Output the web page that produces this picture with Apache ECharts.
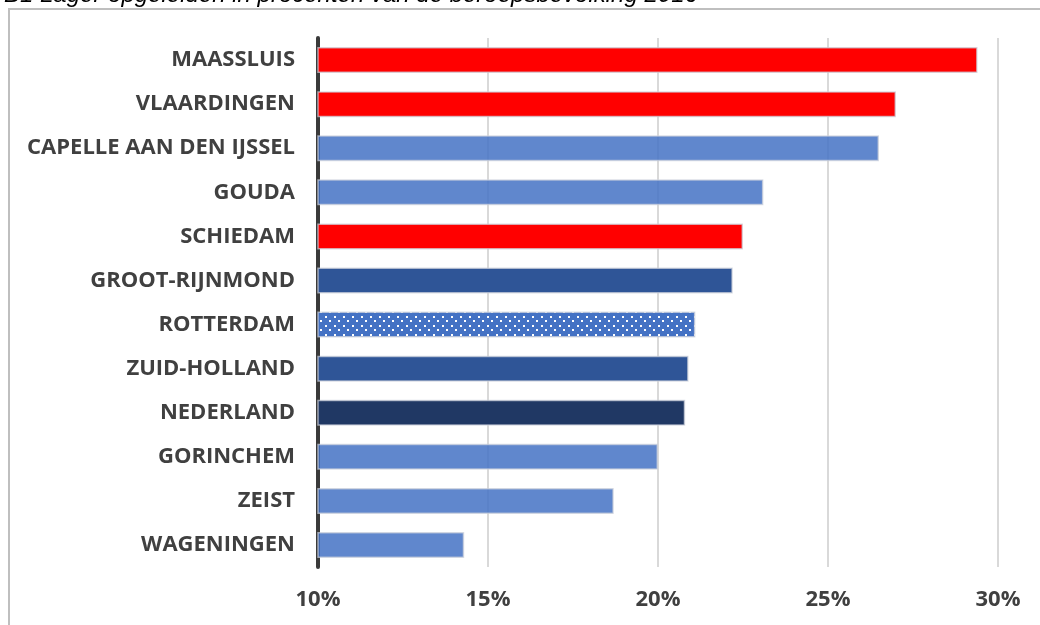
<!DOCTYPE html>
<html>
<head>
<meta charset="utf-8">
<script src="https://cdn.jsdelivr.net/npm/echarts@6/dist/echarts.min.js"></script>
<style>
    html, body { margin: 0; padding: 0; background: #fff; }
    #chart { width: 1040px; height: 625px; }
</style>
</head>
<body>
<div id="chart"></div>
<script>
// gemeenten, van boven naar onder (categorie-as is omgekeerd)
let regions = ['MAASSLUIS', 'VLAARDINGEN', 'CAPELLE AAN DEN IJSSEL', 'GOUDA', 'SCHIEDAM', 'GROOT-RIJNMOND',
    'ROTTERDAM', 'ZUID-HOLLAND', 'NEDERLAND', 'GORINCHEM', 'ZEIST', 'WAGENINGEN'];
let shares = [29.4, 27.0, 26.5, 23.1, 22.5, 22.2, 21.1, 20.9, 20.8, 20.0, 18.7, 14.3];
let kinds = ['rood', 'rood', 'gem', 'gem', 'rood', 'regio', 'rdam', 'regio', 'nl', 'gem', 'gem', 'gem'];
let ticks = [10, 15, 20, 25, 30];

// stippenpatroon voor Rotterdam
let dots = document.createElement('canvas');
dots.width = 9;
dots.height = 9;
let ctx = dots.getContext('2d');
ctx.fillStyle = '#4472C4';
ctx.fillRect(0, 0, 9, 9);
ctx.fillStyle = '#ffffff';
ctx.fillRect(1, 1, 2, 2);
ctx.fillRect(5, 5, 2, 2);

let colors = {
    rood: '#FF0000',
    gem: 'rgba(68,114,196,0.85)',
    regio: '#2F5597',
    nl: '#203864',
    rdam: {image: dots, repeat: 'repeat'}
};

let labelFont = {
    color: '#404040',
    fontFamily: 'Open Sans',
    fontWeight: 'bold',
    fontSize: 22
};

let option = {
    animation: false,
    graphic: [
        {
            type: 'rect',
            shape: {x: 9, y: 9, width: 1100, height: 700},
            style: {fill: 'none', stroke: '#bfbfbf', lineWidth: 2}
        },
        {
            type: 'text',
            left: 4,
            top: -17,
            style: {
                text: 'B1 Lager opgeleiden in procenten van de beroepsbevolking 2016',
                font: 'italic 24px "Liberation Sans"',
                fill: '#000'
            }
        }
    ],
    grid: {
        left: 318,
        right: 42,
        top: 38,
        bottom: 58
    },
    xAxis: {
        type: 'value',
        min: 10,
        max: 30,
        interval: 5,
        axisLine: {show: false},
        axisTick: {show: false},
        splitLine: {
            lineStyle: {color: '#d9d9d9', width: 2}
        },
        axisLabel: Object.assign({
            formatter: (v) => ticks.indexOf(v) > -1 ? v + '%' : '',
            margin: 22
        }, labelFont)
    },
    yAxis: {
        type: 'category',
        inverse: true,
        data: regions,
        axisTick: {show: false},
        axisLine: {
            lineStyle: {color: '#3a3a3a', width: 4}
        },
        axisLabel: Object.assign({
            margin: 23
        }, labelFont)
    },
    series: [
        {
            type: 'bar',
            barWidth: 26,
            data: shares.map((v, i) => ({
                value: v,
                itemStyle: {
                    color: colors[kinds[i]],
                    borderColor: 'rgba(205,210,220,0.7)',
                    borderWidth: 1.5
                }
            }))
        }
    ]
};

let chart = echarts.init(document.getElementById('chart'));
chart.setOption(option);
</script>
</body>
</html>
